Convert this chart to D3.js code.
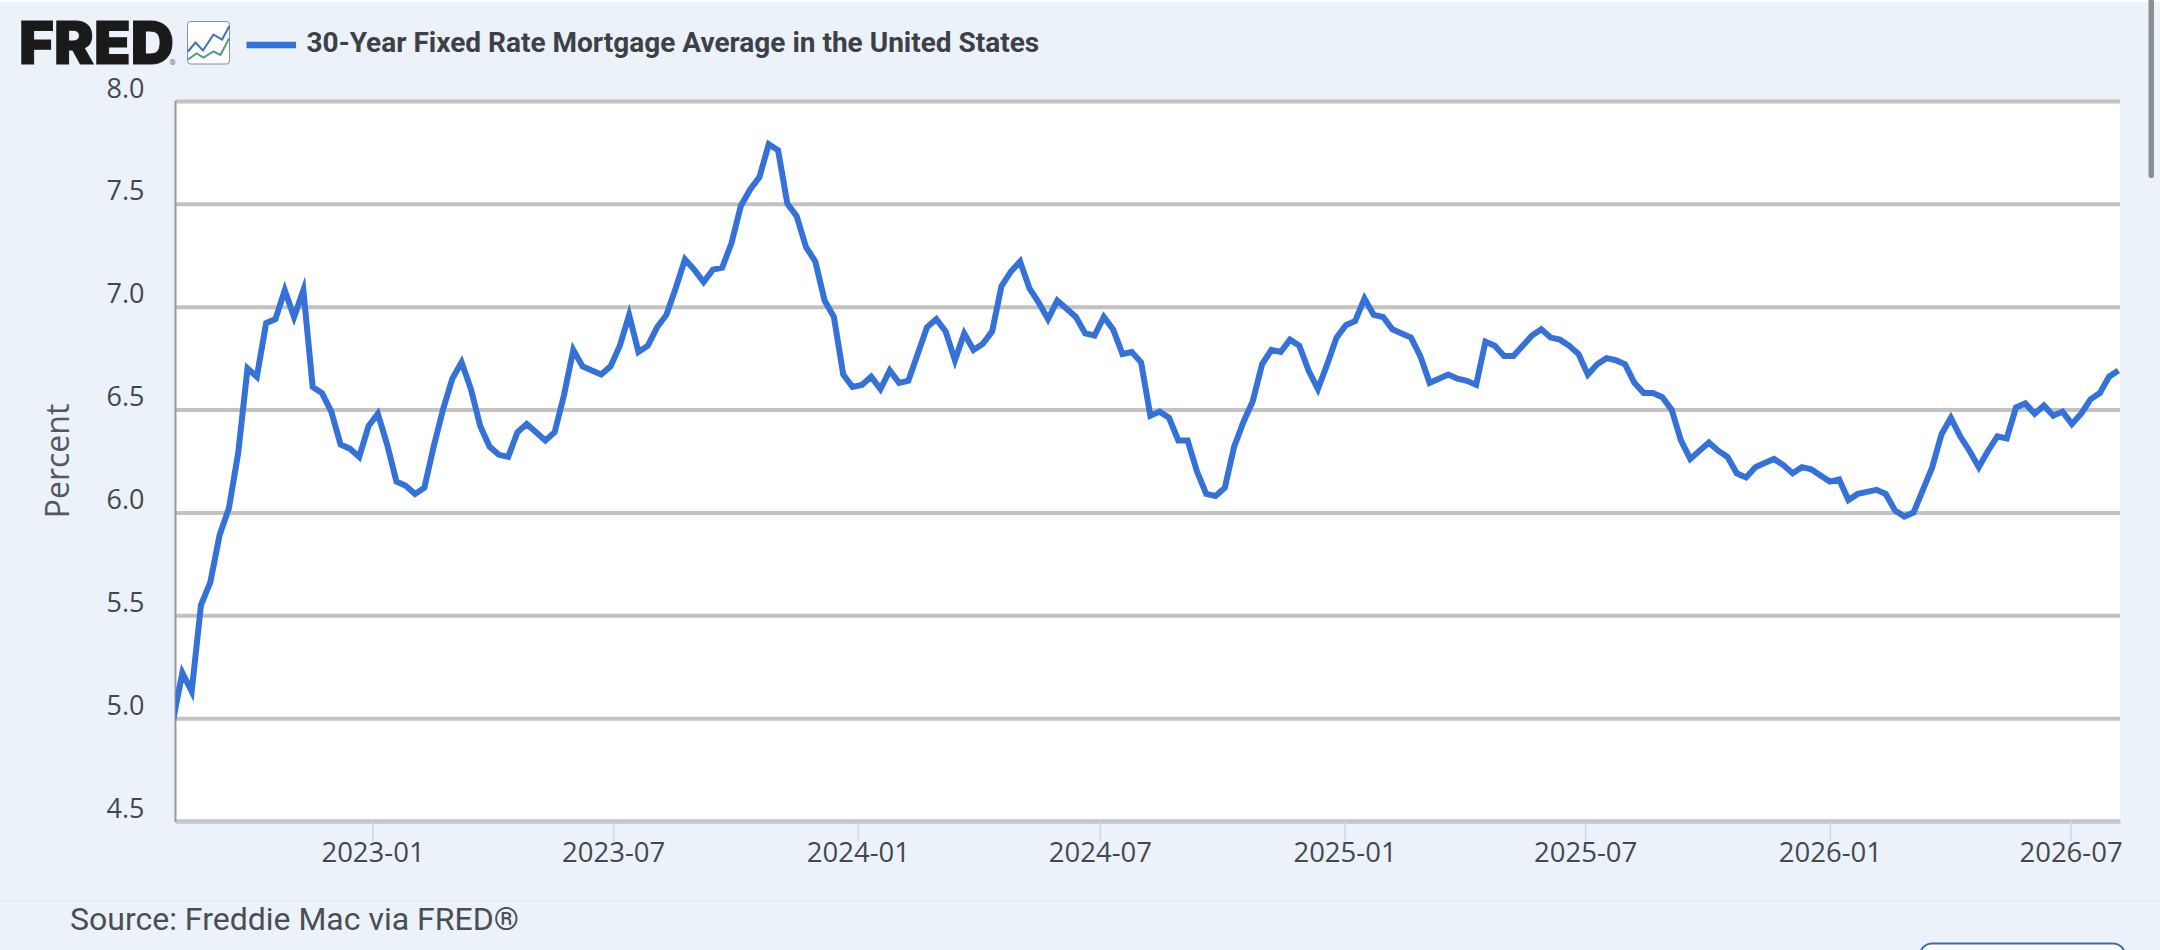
<!DOCTYPE html>
<html>
<head>
<meta charset="utf-8">
<title>30-Year Fixed Rate Mortgage Average</title>
<script src="https://cdn.jsdelivr.net/npm/d3@7"></script>
<style>
  html, body { margin: 0; padding: 0; background: #fff; overflow: hidden; }
  svg { display: block; }
</style>
</head>
<body>
<div id="chart"></div>
<script>
// Data, weekly (Thursdays), one array per calendar year
var rates2022 = [4.99, 5.22, 5.13, 5.55, 5.66, 5.89, 6.02, 6.29, 6.70, 6.66, 6.92, 6.94, 7.08, 6.95, 7.08, 6.61, 6.58, 6.49, 6.33, 6.31, 6.27, 6.42];
var rates2023 = [6.48, 6.33, 6.15, 6.13, 6.09, 6.12, 6.32, 6.50, 6.65, 6.73, 6.60, 6.42, 6.32, 6.28, 6.27, 6.39, 6.43, 6.39, 6.35, 6.39, 6.57, 6.79, 6.71, 6.69, 6.67, 6.71, 6.81, 6.96, 6.78, 6.81, 6.90, 6.96, 7.09, 7.23, 7.18, 7.12, 7.18, 7.19, 7.31, 7.49, 7.57, 7.63, 7.79, 7.76, 7.50, 7.44, 7.29, 7.22, 7.03, 6.95, 6.67, 6.61];
var rates2024 = [6.62, 6.66, 6.60, 6.69, 6.63, 6.64, 6.77, 6.90, 6.94, 6.88, 6.74, 6.87, 6.79, 6.82, 6.88, 7.10, 7.17, 7.22, 7.09, 7.02, 6.94, 7.03, 6.99, 6.95, 6.87, 6.86, 6.95, 6.89, 6.77, 6.78, 6.73, 6.47, 6.49, 6.46, 6.35, 6.35, 6.20, 6.09, 6.08, 6.12, 6.32, 6.44, 6.54, 6.72, 6.79, 6.78, 6.84, 6.81, 6.69, 6.60, 6.72, 6.85];
var rates2025 = [6.91, 6.93, 7.04, 6.96, 6.95, 6.89, 6.87, 6.85, 6.76, 6.63, 6.65, 6.67, 6.65, 6.64, 6.62, 6.83, 6.81, 6.76, 6.76, 6.81, 6.86, 6.89, 6.85, 6.84, 6.81, 6.77, 6.67, 6.72, 6.75, 6.74, 6.72, 6.63, 6.58, 6.58, 6.56, 6.50, 6.35, 6.26, 6.30, 6.34, 6.30, 6.27, 6.19, 6.17, 6.22, 6.24, 6.26, 6.23, 6.19, 6.22, 6.21, 6.18];
var rates2026 = [6.15, 6.16, 6.06, 6.09, 6.10, 6.11, 6.09, 6.01, 5.98, 6.00, 6.11, 6.22, 6.38, 6.46, 6.37, 6.30, 6.22, 6.30, 6.37, 6.36, 6.51, 6.53, 6.48, 6.52, 6.47, 6.49, 6.43, 6.48, 6.55, 6.58, 6.66, 6.69];

var yTicks = [4.5, 5.0, 5.5, 6.0, 6.5, 7.0, 7.5, 8.0];
var xTicks = ["2023-01", "2023-07", "2024-01", "2024-07", "2025-01", "2025-07", "2026-01", "2026-07"];

var seriesName = "30-Year Fixed Rate Mortgage Average in the United States";
var yLabel = "Percent";
var sourceText = "Source: Freddie Mac via FRED\u00AE";

// Set up the page
var svgWidth = 2160;
var svgHeight = 950;
var margin = { top: 101, right: 40, bottom: 129, left: 175.5 };
var width = svgWidth - margin.left - margin.right;
var height = svgHeight - margin.top - margin.bottom;

var tickFont = "'Open Sans', sans-serif";
var textFont = "Roboto, sans-serif";

var svg = d3.select("#chart").append("svg")
    .attr("width", svgWidth)
    .attr("height", svgHeight);

// Page background, separator, scrollbar and the cut off button at the bottom
svg.append("rect").attr("x", 0).attr("y", 2).attr("width", svgWidth).attr("height", svgHeight - 2).attr("fill", "#ebf2fa");
svg.append("line").attr("x1", 0).attr("x2", svgWidth).attr("y1", 901).attr("y2", 901).attr("stroke", "#e0e7f0").attr("stroke-width", 1);
svg.append("rect").attr("x", 2148.5).attr("y", -10).attr("width", 5.5).attr("height", 188).attr("rx", 2.5).attr("fill", "#8b8e93");
svg.append("rect").attr("x", 1920).attr("y", 943.5).attr("width", 205).attr("height", 30).attr("rx", 12).attr("fill", "#fff").attr("stroke", "#3b6db5").attr("stroke-width", 2);

// FRED logo and the little chart icon
var logo = svg.append("g");
logo.append("text")
    .attr("x", 19)
    .attr("y", 64)
    .attr("textLength", 155)
    .attr("lengthAdjust", "spacingAndGlyphs")
    .style("font-family", "Inter, Lato, sans-serif")
    .style("font-weight", 900)
    .style("font-size", "59px")
    .attr("fill", "#1a1a1a")
    .attr("stroke", "#1a1a1a")
    .attr("stroke-width", 1)
    .text("FRED");
logo.append("text")
    .attr("x", 169.5)
    .attr("y", 65)
    .style("font-family", textFont)
    .style("font-size", "8px")
    .attr("fill", "#666")
    .text("\u00AE");

var icon = svg.append("g").attr("transform", "translate(187.5, 21.5)");
icon.append("rect").attr("width", 42).attr("height", 42.5).attr("rx", 3).attr("fill", "#fff").attr("stroke", "#8a8f96").attr("stroke-width", 1);
icon.append("polyline")
    .attr("points", "0.5,30 8,21 15.5,29 26,13 34.5,18 42,4.5")
    .attr("fill", "none").attr("stroke", "#3a70c8").attr("stroke-width", 2);
icon.append("polyline")
    .attr("points", "0.5,38 9,32 16,36 26,30 33,33.5 41.5,17")
    .attr("fill", "none").attr("stroke", "#4f9a8e").attr("stroke-width", 2);

// Legend
svg.append("line")
    .attr("x1", 246.5).attr("x2", 296)
    .attr("y1", 45).attr("y2", 45)
    .attr("stroke", "#3471d8")
    .attr("stroke-width", 6.5);
svg.append("text")
    .attr("x", 306.5)
    .attr("y", 51.5)
    .style("font-family", textFont)
    .style("font-weight", 700)
    .style("font-size", "28px")
    .attr("fill", "#3d4146")
    .text(seriesName);

var chartGroup = svg.append("g")
    .attr("transform", `translate(${margin.left}, ${margin.top})`);

chartGroup.append("rect").attr("width", width).attr("height", height).attr("fill", "#fff");

// Scales
var parseMonth = d3.timeParse("%Y-%m");
var rates = rates2022.concat(rates2023, rates2024, rates2025, rates2026);
var dates = d3.timeThursday.range(new Date(2022, 7, 4), new Date(2026, 7, 7));
var rateData = rates.map(function(r, i) {
    return { date: dates[i], rate: r };
});

var xScale = d3.scaleTime()
    .domain([new Date(2022, 7, 5, 20), new Date(2026, 7, 7, 5)])
    .range([0, width]);
var yScale = d3.scaleLinear()
    .domain([4.5, 8])
    .range([height, 0]);

// Axes
var bottomAxis = d3.axisBottom(xScale)
    .tickValues(xTicks.map(parseMonth))
    .tickFormat(d3.timeFormat("%Y-%m"))
    .tickSizeInner(20)
    .tickSizeOuter(0)
    .tickPadding(1);
var leftAxis = d3.axisLeft(yScale)
    .tickValues(yTicks)
    .tickFormat(d3.format(".1f"))
    .tickSize(-width)
    .tickPadding(0);

var yAxisGroup = chartGroup.append("g").call(leftAxis);
yAxisGroup.select(".domain").remove();
yAxisGroup.selectAll(".tick line")
    .attr("stroke", "#c2c2c2")
    .attr("stroke-width", 4);
yAxisGroup.selectAll(".tick text")
    .attr("x", -31)
    .attr("dy", "-4px")
    .style("font-family", tickFont)
    .style("font-size", "27px")
    .attr("fill", "#44484d");

var xAxisGroup = chartGroup.append("g")
    .attr("transform", `translate(0, ${height})`)
    .call(bottomAxis);
xAxisGroup.select(".domain")
    .attr("stroke", "#c3c6d0")
    .attr("stroke-width", 4);
xAxisGroup.selectAll(".tick line")
    .attr("stroke", "#ccd6eb")
    .attr("stroke-width", 1.5);
xAxisGroup.selectAll(".tick text")
    .style("font-family", tickFont)
    .style("font-size", "27.5px")
    .attr("fill", "#44484d");

chartGroup.append("line")
    .attr("x1", 0).attr("x2", 0)
    .attr("y1", 0).attr("y2", height + 1)
    .attr("stroke", "#9a9a9a")
    .attr("stroke-width", 2);

// Percent label
chartGroup.append("text")
    .attr("transform", "rotate(-90)")
    .attr("x", 0 - (461 - margin.top))
    .attr("y", 69 - margin.left)
    .attr("text-anchor", "middle")
    .style("font-family", tickFont)
    .style("font-size", "32px")
    .attr("fill", "#55595e")
    .text(yLabel);

// The line, first week is clipped by the left edge of the plot
svg.append("clipPath").attr("id", "plot-clip")
    .append("rect")
    .attr("x", 0).attr("y", -4)
    .attr("width", width).attr("height", height + 8);

var rateLine = d3.line()
    .x(d => xScale(d.date))
    .y(d => yScale(d.rate));

chartGroup.append("path")
    .datum(rateData)
    .attr("clip-path", "url(#plot-clip)")
    .attr("d", rateLine)
    .attr("fill", "none")
    .attr("stroke", "#3471d8")
    .attr("stroke-width", 6)
    .attr("stroke-linejoin", "miter")
    .attr("stroke-miterlimit", 6);

// Source
svg.append("text")
    .attr("x", 70)
    .attr("y", 930)
    .style("font-family", textFont)
    .style("font-size", "32px")
    .attr("fill", "#4a4e53")
    .text(sourceText);
</script>
</body>
</html>
